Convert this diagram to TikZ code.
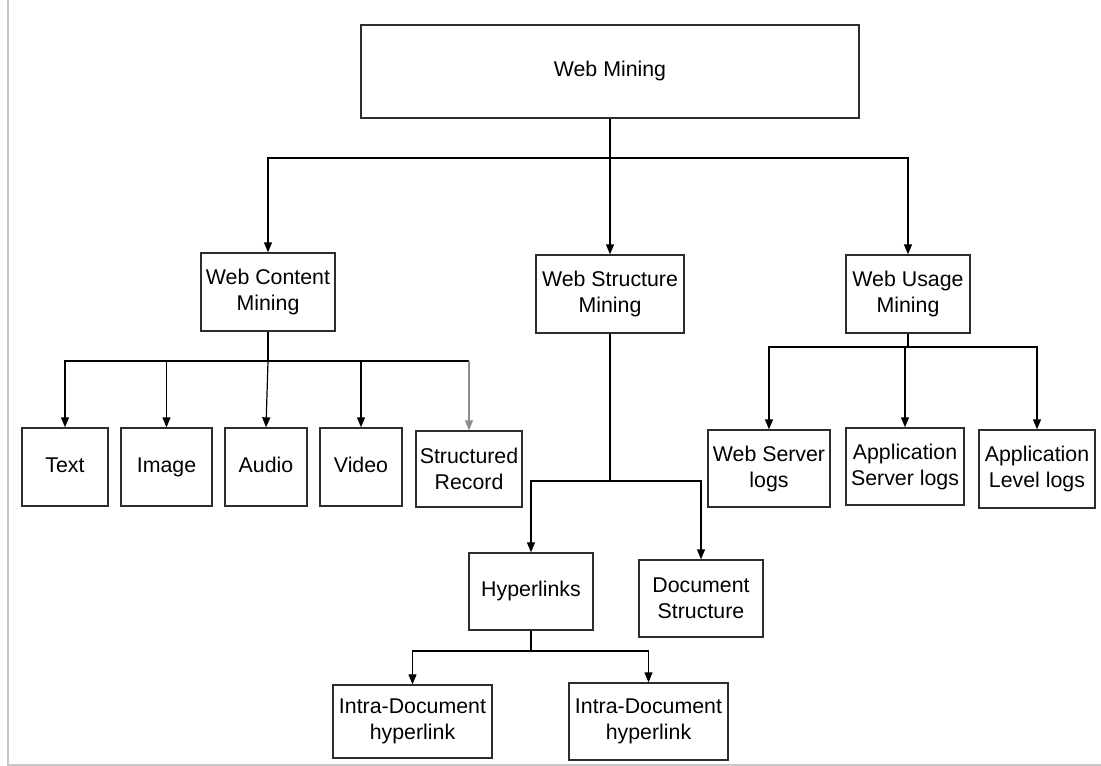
\documentclass[tikz,border=0pt]{standalone}
\usepackage{fontspec}
\setmainfont{Liberation Sans}
\usetikzlibrary{arrows.meta}

\tikzset{every picture/.style={line width=0.75pt}}
\tikzset{
  blk/.style 2 args={draw={rgb, 255:red, 45; green, 45; blue, 45 }, line width=1pt, align=center, inner sep=1pt,
    minimum width=#1*0.75pt, minimum height=#2*0.75pt, font=\fontsize{16}{19.5}\selectfont},
  oneline/.style={text height=11.5pt, text depth=3.5pt},
  arr/.style={-{Triangle[length=7.5pt,width=6pt]}, line width=0.9pt},
}

\begin{document}
\begin{tikzpicture}[x=0.75pt,y=0.75pt,yscale=-1,xscale=1]
\useasboundingbox (0,0) rectangle (1101,766);

%Straight Lines (page frame)
\draw [color={rgb, 255:red, 200; green, 200; blue, 200 }  ,line width=1.5pt]   (8,0) -- (8,765) -- (1101,765) ;

%Shape: Rectangle (top)
\node [blk={498}{93}, oneline] (mining) at (610,71.5) {Web Mining};

%Shape: Rectangle (second row)
\node [blk={134}{78}] (content) at (268,292) {Web Content\\Mining};
\node [blk={148}{78}] (structure) at (610,294) {Web Structure\\Mining};
\node [blk={124}{78}] (usage) at (908,294) {Web Usage\\Mining};

%Shape: Rectangle (content row)
\node [blk={86}{78}, oneline] (text) at (65,467) {Text};
\node [blk={91}{78}, oneline] (image) at (166.5,467) {Image};
\node [blk={82}{78}, oneline] (audio) at (266,467) {Audio};
\node [blk={82}{78}, oneline] (video) at (361,467) {Video};
\node [blk={106}{76}] (record) at (469,469) {Structured\\Record};

%Shape: Rectangle (usage row)
\node [blk={122}{77}] (wserver) at (769,468.5) {Web Server\\logs};
\node [blk={118}{77}] (aserver) at (905,466.5) {Application\\Server logs};
\node [blk={116}{78}] (alevel) at (1037,469) {Application\\Level logs};

%Shape: Rectangle (structure rows)
\node [blk={124}{77}, oneline] (hyper) at (531,591.5) {Hyperlinks};
\node [blk={124}{77}] (docstruct) at (701,598.5) {Document\\Structure};
\node [blk={159}{73}] (intra1) at (412.5,721.5) {Intra-Document\\hyperlink};
\node [blk={159}{77}] (intra2) at (648.5,721.5) {Intra-Document\\hyperlink};

%Branch points
\coordinate (s1) at (610,158);
\coordinate (s2) at (268,361);
\coordinate (s3) at (908,347);
\coordinate (s4) at (610,481);
\coordinate (s5) at (531,651);

%Straight Lines (web mining)
\draw [line width=0.9pt]   (mining.south) -- (s1) ;
\draw [arr]   (s1) -| (content.north) ;
\draw [arr]   (s1) -- (structure.north) ;
\draw [arr]   (s1) -| (usage.north) ;

%Straight Lines (content)
\draw [line width=0.9pt]   (content.south) -- (s2) -- (s2 -| record.north) ;
\draw [arr, color={rgb, 255:red, 140; green, 140; blue, 140 }]   (s2 -| record.north) -- (record.north) ;
\draw [arr]   (s2) -| (text.north) ;
\draw [arr]   (s2) -| (image.north) ;
\draw [arr]   (s2) -- (audio.north) ;
\draw [arr]   (s2) -| (video.north) ;

%Straight Lines (usage)
\draw [line width=0.9pt]   (usage.south) -- (s3) ;
\draw [arr]   (s3) -| (wserver.north) ;
\draw [arr]   (s3) -| (aserver.north) ;
\draw [arr]   (s3) -| (alevel.north) ;

%Straight Lines (structure)
\draw [line width=0.9pt]   (structure.south) -- (s4) ;
\draw [arr]   (s4) -| (hyper.north) ;
\draw [arr]   (s4) -| (docstruct.north) ;

%Straight Lines (hyperlinks)
\draw [line width=0.9pt]   (hyper.south) -- (s5) ;
\draw [arr]   (s5) -| (intra1.north) ;
\draw [arr]   (s5) -| (intra2.north) ;

\end{tikzpicture}
\end{document}
